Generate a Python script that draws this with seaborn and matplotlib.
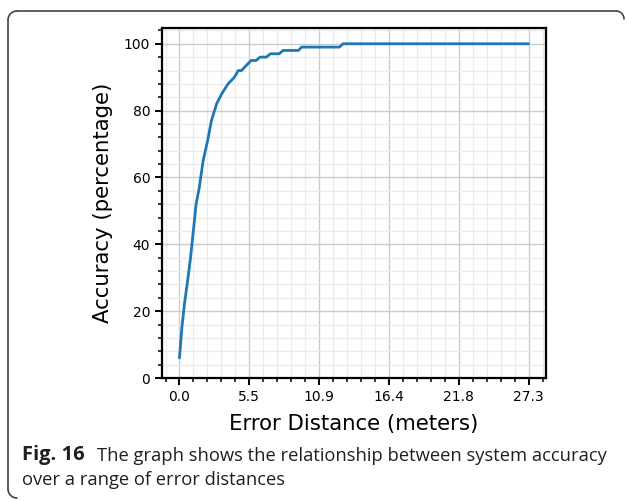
import numpy as np
import matplotlib
matplotlib.use("Agg")
import matplotlib.pyplot as plt
from matplotlib.ticker import AutoMinorLocator, FixedLocator
from matplotlib.lines import Line2D
import seaborn as sns

# === Données ===
error_distance = [0.0, 0.2, 0.4, 0.65, 0.85, 1.1, 1.3, 1.55, 1.85, 2.2, 2.5, 2.9,
                  3.3, 3.8, 4.3, 4.6, 4.85, 5.1, 5.6, 6.0, 6.3, 6.8, 7.1, 7.8,
                  8.1, 9.3, 9.55, 12.5, 12.8, 27.3]
accuracy = [6, 15.5, 22.5, 29.5, 35.5, 44.5, 52, 57, 65, 71, 77, 82,
            85, 88, 90, 92, 92, 93, 95, 95, 96, 96, 97, 97,
            98, 98, 99, 99, 100, 100]
x_ticks = np.linspace(0, 27.3, 6)
x_tick_labels = ["%.1f" % v for v in x_ticks]
y_ticks = [0, 20, 40, 60, 80, 100]

caption_bold = "Fig. 16"
caption_text = ("The graph shows the relationship between system accuracy\n"
                "over a range of error distances")

sns.set_style("ticks")
plt.rcParams['font.family'] = ['DejaVu Sans']
plt.rcParams['text.color'] = 'black'
plt.rcParams['axes.labelcolor'] = 'black'

fig = plt.figure(figsize=(6.27, 5.01), dpi=100)
ax = fig.add_axes([0.2584, 0.2455, 0.6124, 0.6985])

sns.lineplot(x=error_distance, y=accuracy, ax=ax, color="#1f77b4",
             linewidth=2.0, estimator=None, sort=False)

ax.set_xlim(-1.365, 28.665)
ax.set_ylim(0, 104.7)
ax.xaxis.set_major_locator(FixedLocator(x_ticks))
ax.set_xticklabels(x_tick_labels)
ax.yaxis.set_major_locator(FixedLocator(y_ticks))
ax.xaxis.set_minor_locator(AutoMinorLocator(5))
ax.yaxis.set_minor_locator(AutoMinorLocator(5))

ax.grid(which="major", color="#cccccc", linewidth=1.0)
ax.grid(which="minor", color="#ebebeb", linewidth=0.9)
ax.set_axisbelow(True)

for s in ax.spines.values():
    s.set_color("black")
    s.set_linewidth(1.6)
ax.tick_params(which="major", direction="out", length=5, width=1.4,
               labelsize=10, colors="black", labelcolor="black",
               top=False, right=False)
ax.tick_params(which="minor", direction="out", length=3, width=1.1,
               colors="black", top=False, right=False)

ax.set_xlabel("Error Distance (meters)", fontsize=15.3, labelpad=7,
              color="black")
ax.set_ylabel("Accuracy (percentage)", fontsize=15.3, labelpad=8,
              color="black")

# cadre arrondi autour de la figure (comme dans l'article)
W, H = 627.0, 501.0
r = 9
col = "#444444"
fig.add_artist(Line2D([(8 + r) / W, 616 / W], [1 - 11 / H, 1 - 11 / H],
                      color=col, lw=1.2, transform=fig.transFigure))
fig.add_artist(Line2D([8 / W, 8 / W], [1 - (11 + r) / H, 1 - (498 - r) / H],
                      color=col, lw=1.2, transform=fig.transFigure))
th = np.linspace(np.pi / 2, np.pi, 20)
fig.add_artist(Line2D((8 + r + r * np.cos(th)) / W,
                      1 - (11 + r - r * np.sin(th)) / H,
                      color=col, lw=1.2, transform=fig.transFigure))
th2 = np.linspace(np.pi, 1.5 * np.pi, 20)
fig.add_artist(Line2D((8 + r + r * np.cos(th2)) / W,
                      1 - (498 - r - r * np.sin(th2)) / H,
                      color=col, lw=1.2, transform=fig.transFigure))
th3 = np.linspace(0, np.pi / 2, 10)
fig.add_artist(Line2D((616 + 8 * np.cos(th3)) / W,
                      1 - (19 - 8 * np.sin(th3)) / H,
                      color=col, lw=1.2, transform=fig.transFigure))

# légende de la figure
cap_font = ["Open Sans", "DejaVu Sans"]
fig.text(22 / W, 1 - 455 / H, caption_bold, fontsize=14.5,
         fontweight="bold", family=cap_font, color="#231f20", va="center")
fig.text(97 / W, 1 - 456 / H, caption_text.split("\n")[0], fontsize=13.2,
         family=cap_font, color="#231f20", va="center")
fig.text(22 / W, 1 - 480 / H, caption_text.split("\n")[1], fontsize=13.2,
         family=cap_font, color="#231f20", va="center")

fig.savefig("out.png", dpi=100)
